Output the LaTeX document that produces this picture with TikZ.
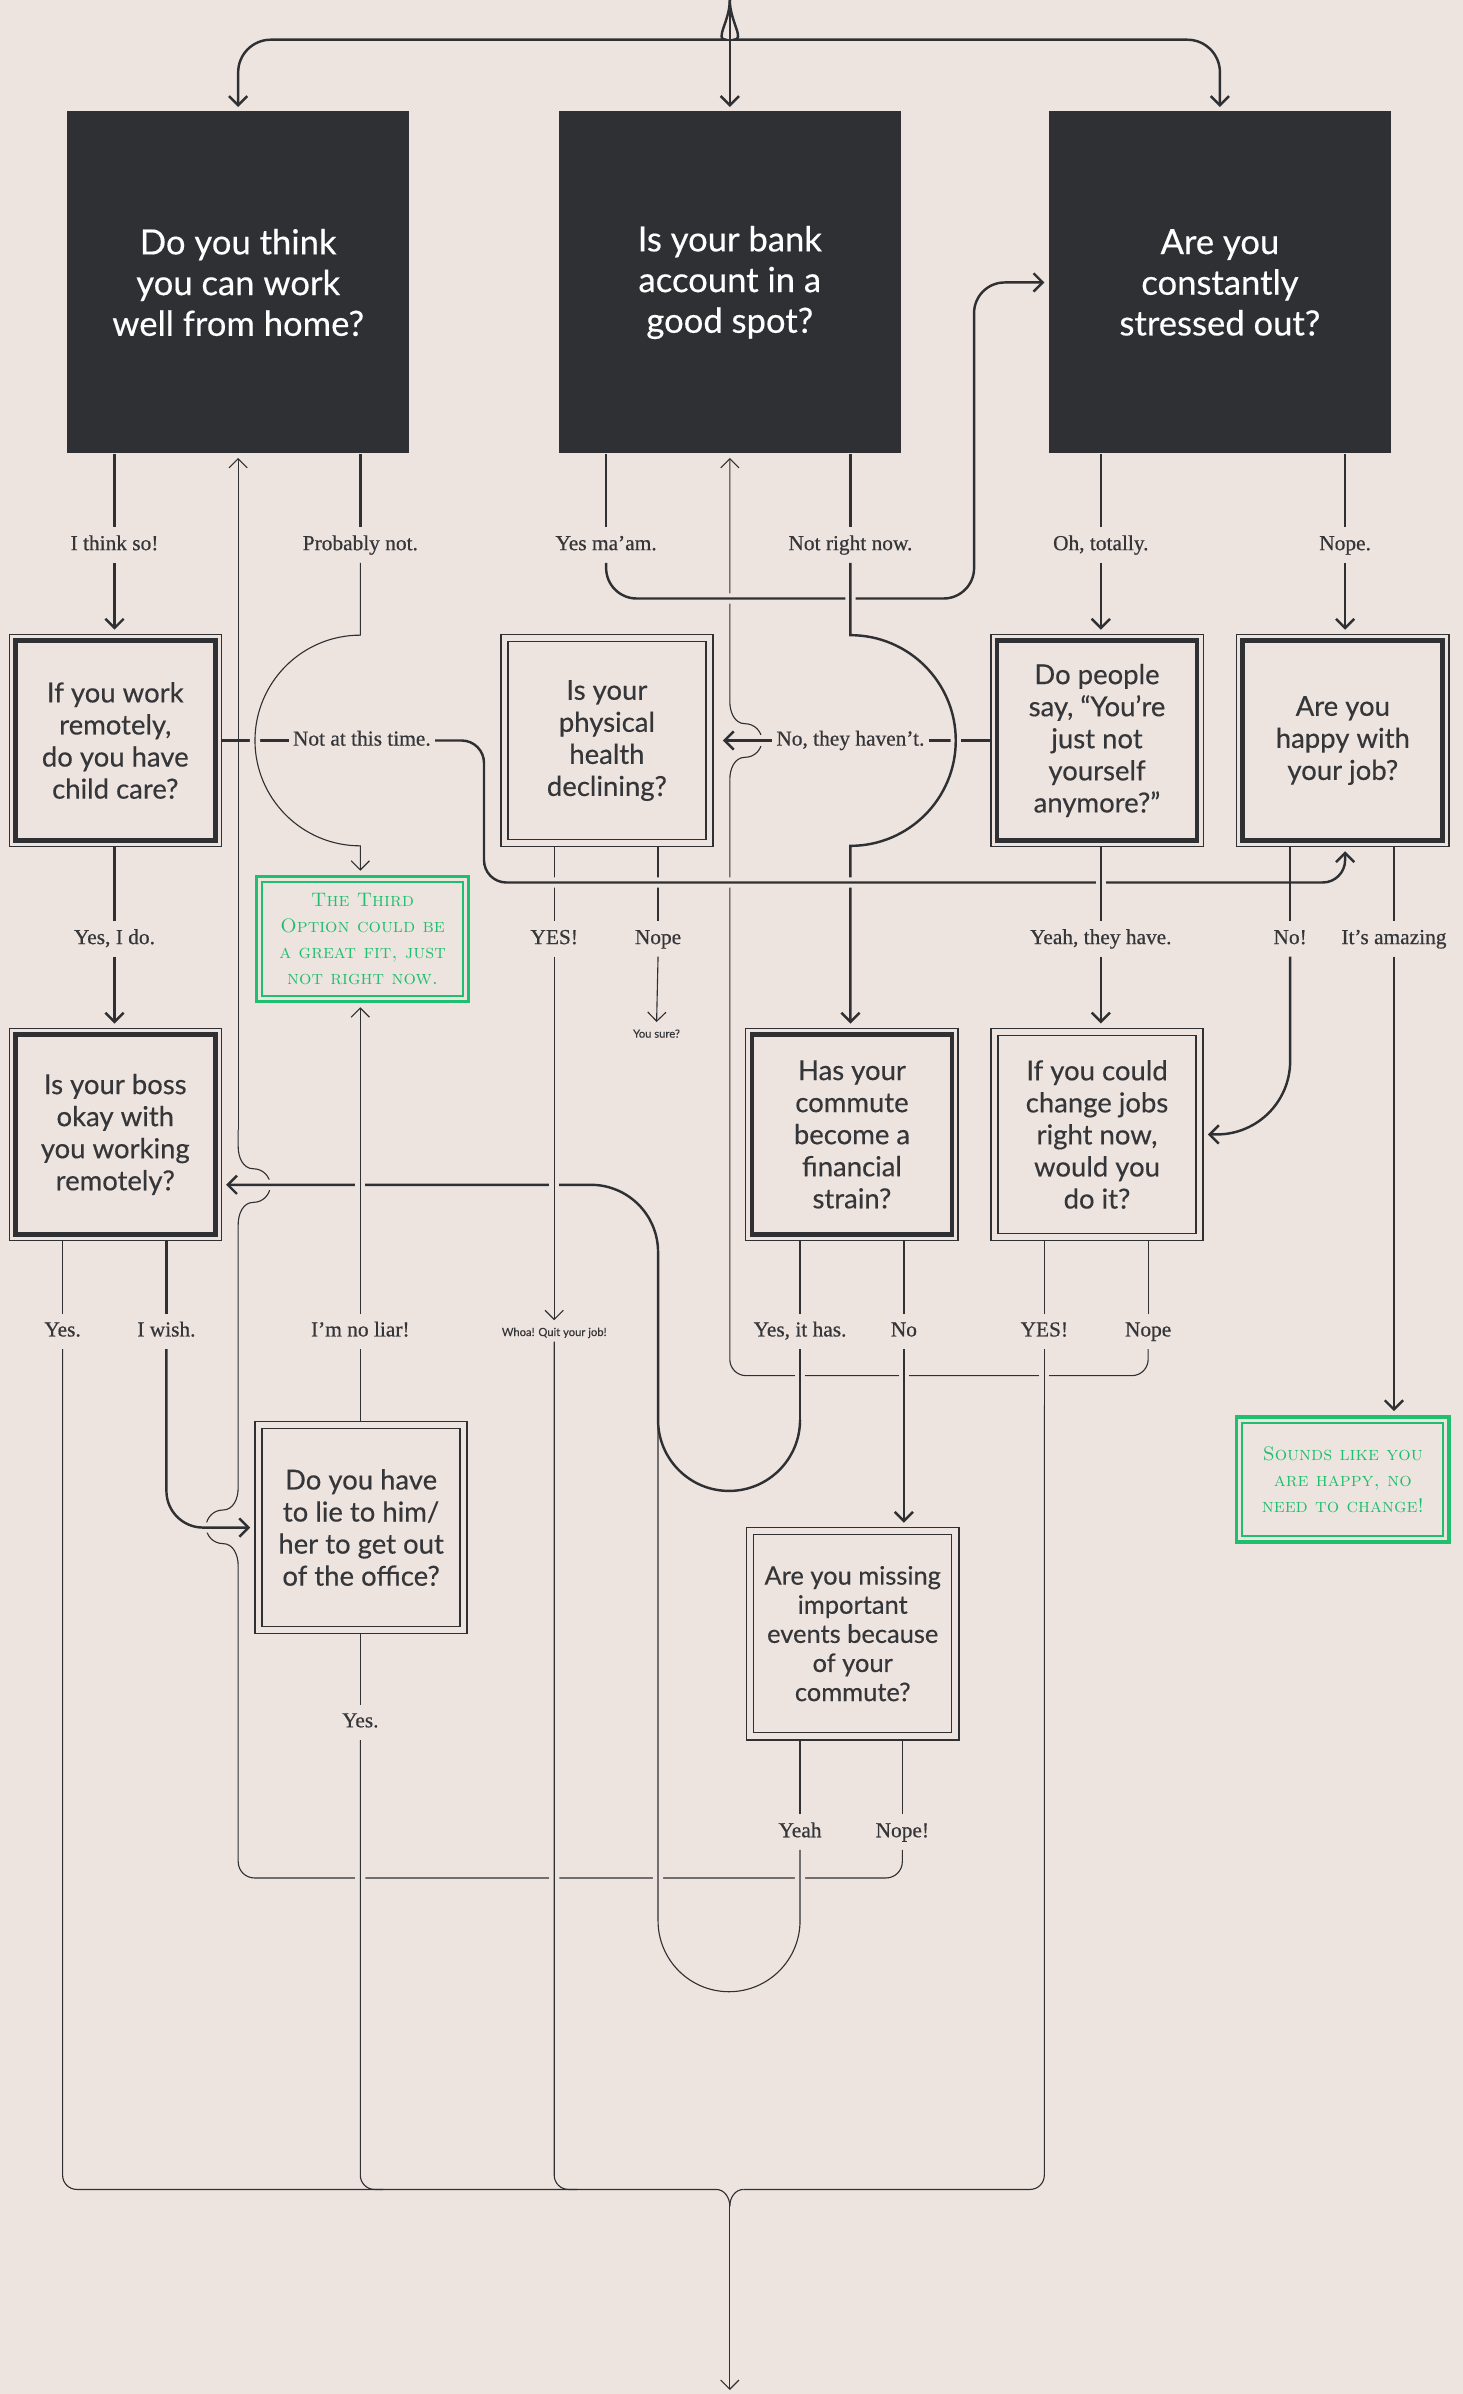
\documentclass[tikz,border=0pt]{standalone}
\usepackage{fontspec}
\usetikzlibrary{arrows.meta,backgrounds}
\newfontfamily\boxfont[FakeBold=0.4]{Lato}
\newfontfamily\labfont[FakeBold=0.6]{Liberation Serif}
\definecolor{bg}{HTML}{EEE4DF}
\definecolor{ink}{HTML}{2E3033}
\definecolor{txt}{HTML}{35363A}
\definecolor{leaf}{HTML}{1FBF70}

\tikzset{
  dark/.style={fill=ink, text=white, minimum width=168pt, minimum height=168pt, inner sep=0pt, align=center,
    font=\boxfont\fontsize{17}{20}\selectfont},
  qthick/.style={draw=ink, line width=0.6pt, fill=bg, text=txt, minimum width=104.25pt, minimum height=104.25pt,
    inner sep=0pt, align=center, font=\boxfont\fontsize{13.5}{15.75}\selectfont,
    path picture={\draw[ink, line width=2.3pt] ([shift={(3pt,-3pt)}]path picture bounding box.north west)
      rectangle ([shift={(-3pt,3pt)}]path picture bounding box.south east);}},
  qthin/.style={draw=ink, line width=0.7pt, fill=bg, text=txt, minimum width=104.25pt, minimum height=104.25pt,
    inner sep=0pt, align=center, font=\boxfont\fontsize{13.5}{15.75}\selectfont,
    path picture={\draw[ink, line width=0.7pt] ([shift={(3.5pt,-3.5pt)}]path picture bounding box.north west)
      rectangle ([shift={(-3.5pt,3.5pt)}]path picture bounding box.south east);}},
  note/.style={draw=leaf, line width=1.6pt, fill=bg, text=leaf, minimum width=104.25pt, minimum height=61.5pt,
    inner sep=0pt, align=center, font=\fontsize{9.6}{12.7}\selectfont\scshape\addfontfeatures{LetterSpace=5},
    path picture={\draw[leaf, line width=1pt] ([shift={(2.8pt,-2.8pt)}]path picture bounding box.north west)
      rectangle ([shift={(-2.8pt,2.8pt)}]path picture bounding box.south east);}},
  lab/.style={fill=bg, text=txt, inner xsep=2pt, inner ysep=4pt, text height=7pt, text depth=2pt,
    font=\labfont\fontsize{10.5}{12}\selectfont},
  mini/.style={fill=bg, text=txt, inner sep=1.5pt, font=\boxfont\fontsize{5.5}{6}\selectfont},
  thk/.style={draw=ink, line width=1.2pt},
  thn/.style={draw=ink, line width=0.55pt},
  halo/.style={preaction={draw=bg, line width=5pt, -}},
  arr/.style={->, shorten >=2pt},
}

\begin{document}
\begin{tikzpicture}[x=0.75pt, y=0.75pt, >={Straight Barb[length=4.5pt,width=9pt]}]
  \useasboundingbox (0,0) rectangle (958,-1568);

  % Domande principali
  \node[dark] (q1) at (156,-185) {Do you think\\you can work\\well from home?};
  \node[dark] (q2) at (478,-185) {Is your bank\\account in a\\good spot?};
  \node[dark] (q3) at (799,-185) {Are you\\constantly\\stressed out?};

  % Secondo livello
  \node[qthick] (qa) at (75.5,-485) {If you work\\remotely,\\do you have\\child care?};
  \node[qthin] (qb) at (397.5,-485) {Is your\\physical\\health\\declining?};
  \node[qthick] (qc) at (718.5,-485) {Do people\\say, “You’re\\just not\\yourself\\anymore?”};
  \node[qthick] (qd) at (879.5,-485) {Are you\\happy with\\your job?};
  \node[note] (g1) at (237.5,-615) {The Third\\Option could be\\a great fit, just\\not right now.};

  % Terzo livello
  \node[qthick] (qe) at (75.5,-743) {Is your boss\\okay with\\you working\\remotely?};
  \node[qthick] (qf) at (558,-743) {Has your\\commute\\become a\\financial\\strain?};
  \node[qthin] (qg) at (718.5,-743) {If you could\\change jobs\\right now,\\would you\\do it?};

  % Quarto livello
  \node[qthin] (qh) at (236.5,-1000.5) {Do you have\\to lie to him/\\her to get out\\of the office?};
  \node[note] (g2) at (879.5,-969) {Sounds like you\\are happy, no\\need to change!};
  \node[qthin, font=\boxfont\fontsize{12.5}{14.3}\selectfont] (qi) at (558.5,-1070)
    {Are you missing\\important\\events because\\of your\\commute?};

  % Etichette
  \node[lab] (l1) at (75,-357) {I think so!};
  \node[lab] (l2) at (236,-357) {Probably not.};
  \node[lab] (l3) at (397,-357) {Yes ma’am.};
  \node[lab] (l4) at (557,-357) {Not right now.};
  \node[lab] (l5) at (721,-357) {Oh, totally.};
  \node[lab] (l6) at (881,-357) {Nope.};
  \node[lab] (l7) at (237,-485) {Not at this time.};
  \node[lab] (l8) at (557,-485) {No, they haven’t.};
  \node[lab] (l9) at (75,-615) {Yes, I do.};
  \node[lab] (l10) at (363,-615) {YES!};
  \node[lab] (l11) at (431,-615) {Nope};
  \node[lab] (l12) at (721,-615) {Yeah, they have.};
  \node[lab] (l13) at (845,-615) {No!};
  \node[lab] (l14) at (913,-615) {It’s amazing};
  \node[mini] (t1) at (430,-677) {You sure?};
  \node[lab] (l15) at (41,-872) {Yes.};
  \node[lab] (l16) at (109,-872) {I wish.};
  \node[lab] (l17) at (236,-872) {I’m no liar!};
  \node[mini] (t2) at (363,-873) {Whoa! Quit your job!};
  \node[lab] (l18) at (524,-872) {Yes, it has.};
  \node[lab] (l19) at (592,-872) {No};
  \node[lab] (l20) at (684,-872) {YES!};
  \node[lab] (l21) at (752,-872) {Nope};
  \node[lab] (l22) at (236,-1128) {Yes.};
  \node[lab] (l23) at (524,-1200) {Yeah};
  \node[lab] (l24) at (591,-1200) {Nope!};

  \begin{scope}[on background layer]
    \fill[bg] (0,0) rectangle (958,-1568);
    % coordinate guida
    \coordinate (top) at (478,0);
    \coordinate (sp) at (0,-26);
    \coordinate (yA) at (0,-392);
    \coordinate (yB) at (0,-578);
    \coordinate (yC) at (0,-776);
    \coordinate (yD) at (0,-901);
    \coordinate (yH) at (0,-920);
    \coordinate (yF) at (0,-1230);
    \coordinate (yG) at (0,-1434);
    \coordinate (sem) at (0,-416);
    \coordinate (uA) at (0,-930);
    \coordinate (uB) at (0,-1258);
    \coordinate (jA) at (0,-1025.5);
    \coordinate (jB) at (0,-510.5);
    \coordinate (jC) at (0,-802);
    \coordinate (jD) at (0,-740);
    \coordinate (xJ) at (431,0);
    \coordinate (xK) at (317,0);
    \coordinate (xL) at (638,0);
    \coordinate (mL) at (469,-1434);
    \coordinate (mR) at (487,-1434);
    \coordinate (stm) at (478,-1445);
    \coordinate (bot) at (478,-1568);

    % Partenza
    \draw[thk, arr] (top) -- (q2.north);
    \draw[thk, arr, rounded corners=16pt] (top) to[out=-90,in=0] ++(-24,-26) -- (q1 |- sp) -- (q1.north);
    \draw[thk, arr, rounded corners=16pt] (top) to[out=-90,in=180] ++(24,-26) -- (q3 |- sp) -- (q3.north);

    % Nope -> banca
    \draw[thn] (l21 |- qg.south) -- (l21.north);
    \draw[thn, rounded corners=8pt] (l21.south) -- (l21 |- yD) -- (q2 |- yD) -- (q2 |- jB);
    \draw[thn, arr] (q2 |- jB) to[out=90,in=180] ++(10,14.5) arc[start angle=-90,end angle=90,radius=11]
      to[out=180,in=-90] ++(-10,14.5) -- (q2.south);

    % salute
    \draw[thn] (l10 |- qb.south) -- (l10.north);
    \draw[thn] (l11 |- qb.south) -- (l11.north);
    \draw[thn, arr] (l11.south) -- (t1.north);

    % Nope! -> casa, parte bassa
    \draw[thn] (l24 |- qi.south) -- (l24.north);
    \draw[thn, rounded corners=8pt] (l24.south) -- (l24 |- yF) -- (q1 |- yF) -- (q1 |- jA);
    \draw[thn] (q1 |- jA) to[out=90,in=0] ++(-10,14.5) arc[start angle=-90,end angle=-270,radius=11]
      to[out=0,in=-90] ++(10,14.5) -- (q1 |- jC)
      to[out=90,in=180] ++(10,14.5) arc[start angle=-90,end angle=90,radius=11]
      to[out=180,in=-90] ++(-10,14.5) -- (q1 |- jD);

    % Yeah
    \draw[thn] (l23 |- qi.south) -- (l23.north);
    \draw[thn, halo] (l23.south) -- (l23 |- uB) arc[start angle=0,end angle=-180,radius=46.5] -- (xJ |- uA);

    % Yes, it has.
    \draw[thk] (l18 |- qf.south) -- (l18.north);
    \draw[thk, halo] (l18.south) -- (l18 |- uA);
    \draw[thk] (l18 |- uA) arc[start angle=0,end angle=-180,radius=46.5];
    \draw[thk, halo, arr, rounded corners=33pt] (xJ |- uA) -- (xJ |- yC) -- (qe.east |- yC);

    % YES! -> Whoa
    \draw[thn, halo, arr] (l10.south) -- (t2.north);

    % Yes ma'am
    \draw[thk] (l3 |- q2.south) -- (l3.north);
    \draw[thk, halo, arr, rounded corners=15pt] (l3.south) -- (l3 |- yA) -- (xL |- yA) -- (xL |- q3.west) -- (q3.west);

    % No, they haven't.
    \draw[thk, halo] (qc.west) -- (l8.east);
    \draw[thk, halo, arr, shorten >=4.5pt] (l8.west) -- (qb.east);

    % Not right now.
    \draw[thk] (l4 |- q2.south) -- (l4.north);
    \draw[thk, halo, arr] (l4.south) -- (l4 |- sem) arc[start angle=90,end angle=-90,radius=69] -- (l4 |- qf.north);

    % Not at this time.
    \draw[thk, halo] (qa.east) -- (l7.west);
    \draw[thk, halo, arr, rounded corners=11pt] (l7.east) -- (xK |- l7) -- (xK |- yB) -- (l6 |- yB) -- (l6 |- qd.south);

    % Nope! -> casa, parte alta
    \draw[thn, arr] (q1 |- jD) -- (q1.south);

    % Probably not.
    \draw[thk] (l2 |- q1.south) -- (l2.north);
    \draw[thn, halo, arr] (l2.south) -- (l2 |- sem) arc[start angle=90,end angle=270,radius=69] -- (l2 |- g1.north);

    % Yeah, they have.
    \draw[thk, halo] (l12 |- qc.south) -- (l12.north);
    \draw[thk, arr] (l12.south) -- (l12 |- qg.north);

    % No
    \draw[thk] (l19 |- qf.south) -- (l19.north);
    \draw[thk, halo, arr] (l19.south) -- (l19 |- qi.north);

    % YES! (lavoro)
    \draw[thn] (l20 |- qg.south) -- (l20.north);
    \draw[thn, halo] (l20.south) -- (l20 |- yH);

    % I'm no liar!
    \draw[thn] (l17 |- qh.north) -- (l17.south);
    \draw[thn, halo, arr] (l17.north) -- (l17 |- g1.south);

    % Yes. e Whoa
    \draw[thn] (l22 |- qh.south) -- (l22.north);
    \draw[thn, halo, rounded corners=7pt] (l22.south) -- (l22 |- yG) -- ++(15,0);
    \draw[thn, halo, rounded corners=7pt] (t2.south) -- (t2 |- yG) -- ++(15,0);

    % Raccolta in basso
    \draw[thn] (l15 |- qe.south) -- (l15.north);
    \draw[thn, rounded corners=7pt] (l15.south) -- (l15 |- yG) -- (mL);
    \draw[thn, rounded corners=7pt] (mR) -- (l20 |- yG) -- (l20 |- yH);
    \draw[thn] (mL) to[out=0,in=90] (stm);
    \draw[thn] (mR) to[out=180,in=90] (stm);
    \draw[thn, arr] (stm) -- (bot);

    % Frecce dirette
    \draw[thk] (l1 |- q1.south) -- (l1.north);
    \draw[thk, arr] (l1.south) -- (l1 |- qa.north);
    \draw[thk] (l9 |- qa.south) -- (l9.north);
    \draw[thk, arr] (l9.south) -- (l9 |- qe.north);
    \draw[thk] (l5 |- q3.south) -- (l5.north);
    \draw[thk, arr] (l5.south) -- (l5 |- qc.north);
    \draw[thk] (l6 |- q3.south) -- (l6.north);
    \draw[thk, arr] (l6.south) -- (l6 |- qd.north);
    \draw[thk] (l13 |- qd.south) -- (l13.north);
    \draw[thk, arr, rounded corners=36pt] (l13.south) -- (l13 |- qg.east) -- (qg.east);
    \draw[thk] (l14 |- qd.south) -- (l14.north);
    \draw[thk, arr] (l14.south) -- (l14 |- g2.north);
    \draw[thk] (l16 |- qe.south) -- (l16.north);
    \draw[thk, halo, arr, rounded corners=18pt] (l16.south) -- (l16 |- qh.west) -- (qh.west);
  \end{scope}
\end{tikzpicture}
\end{document}
